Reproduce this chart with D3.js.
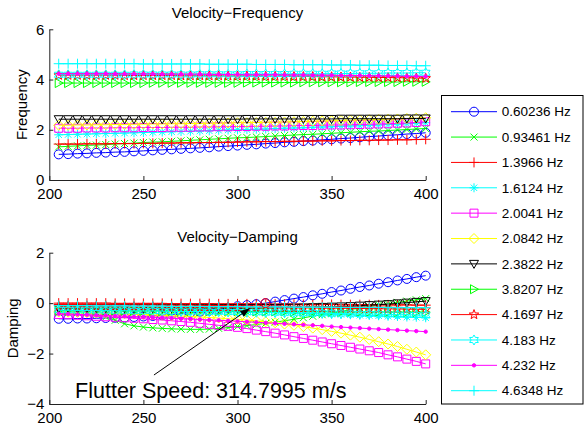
<!DOCTYPE html>
<html>
<head>
<meta charset="utf-8">
<script src="https://cdn.jsdelivr.net/npm/d3@7"></script>
<style>
  body { margin: 0; background: #fff; }
  svg text { font-family: "Liberation Sans", Arial, sans-serif; }
</style>
</head>
<body>
<svg id="chart" width="584" height="430"></svg>
<script>
// airspeed (m/s) for each point
const velocity = [205,210,215,220,225,230,235,240,245,250,255,260,265,270,275,280,285,290,295,300,
                  305,310,315,320,325,330,335,340,345,350,355,360,365,370,375,380,385,390,395,400];

const modeLabels = ['0.60236 Hz','0.93461 Hz','1.3966 Hz','1.6124 Hz','2.0041 Hz','2.0842 Hz',
                    '2.3822 Hz','3.8207 Hz','4.1697 Hz','4.183 Hz','4.232 Hz','4.6348 Hz'];

// frequency per mode
const freq1 = [1.02,1.03,1.05,1.06,1.08,1.09,1.11,1.12,1.14,1.16,1.18,1.20,1.22,1.24,1.26,1.28,1.30,1.33,1.35,1.37,
               1.40,1.42,1.45,1.47,1.50,1.52,1.55,1.57,1.60,1.62,1.65,1.67,1.70,1.73,1.75,1.78,1.80,1.83,1.85,1.88];
const freq2 = [1.32,1.34,1.36,1.38,1.39,1.41,1.43,1.45,1.47,1.49,1.51,1.52,1.54,1.56,1.58,1.60,1.62,1.64,1.66,1.68,
               1.69,1.71,1.73,1.75,1.77,1.79,1.81,1.82,1.84,1.86,1.88,1.90,1.92,1.94,1.95,1.97,1.99,2.01,2.03,2.05];
const freq3 = [1.43,1.43,1.43,1.44,1.44,1.44,1.45,1.45,1.45,1.46,1.46,1.47,1.47,1.48,1.48,1.49,1.49,1.50,1.50,1.51,
               1.52,1.52,1.53,1.53,1.54,1.54,1.55,1.55,1.56,1.56,1.57,1.57,1.58,1.58,1.59,1.59,1.60,1.60,1.61,1.62];
const freq4 = [1.80,1.81,1.82,1.83,1.84,1.85,1.86,1.87,1.88,1.89,1.90,1.91,1.92,1.93,1.94,1.95,1.96,1.98,1.99,2.00,
               2.01,2.02,2.03,2.05,2.06,2.07,2.08,2.10,2.11,2.12,2.14,2.15,2.16,2.18,2.19,2.21,2.22,2.24,2.26,2.28];
const freq5 = [2.06,2.06,2.06,2.07,2.07,2.07,2.08,2.08,2.08,2.09,2.09,2.09,2.10,2.10,2.10,2.11,2.11,2.12,2.12,2.13,
               2.13,2.14,2.14,2.15,2.15,2.16,2.17,2.17,2.18,2.19,2.19,2.20,2.21,2.22,2.23,2.24,2.26,2.27,2.29,2.32];
const freq6 = [2.18,2.18,2.19,2.19,2.20,2.20,2.21,2.21,2.22,2.22,2.23,2.23,2.24,2.24,2.25,2.25,2.26,2.26,2.27,2.28,
               2.28,2.29,2.30,2.30,2.31,2.32,2.33,2.34,2.35,2.36,2.37,2.38,2.39,2.40,2.41,2.42,2.43,2.45,2.46,2.48];
const freq7 = [2.42,2.42,2.42,2.42,2.42,2.42,2.42,2.42,2.42,2.42,2.42,2.42,2.42,2.42,2.42,2.42,2.42,2.42,2.42,2.42,
               2.43,2.43,2.43,2.43,2.43,2.43,2.43,2.43,2.43,2.43,2.44,2.44,2.44,2.44,2.44,2.44,2.44,2.45,2.45,2.45];
const freq8 = [3.86,3.86,3.86,3.86,3.86,3.86,3.86,3.86,3.86,3.86,3.87,3.87,3.87,3.87,3.87,3.87,3.87,3.87,3.87,3.87,
               3.88,3.88,3.88,3.88,3.88,3.88,3.89,3.89,3.89,3.89,3.89,3.89,3.90,3.90,3.90,3.90,3.90,3.91,3.91,3.91];
const freq9 = [4.17,4.17,4.17,4.17,4.17,4.17,4.17,4.16,4.16,4.16,4.16,4.16,4.16,4.15,4.15,4.15,4.15,4.15,4.14,4.14,
               4.14,4.14,4.13,4.13,4.13,4.12,4.12,4.12,4.11,4.11,4.10,4.10,4.09,4.09,4.08,4.08,4.07,4.07,4.06,4.05];
const freq10 = [4.19,4.19,4.19,4.19,4.19,4.19,4.19,4.19,4.20,4.20,4.20,4.20,4.20,4.20,4.20,4.21,4.21,4.21,4.21,4.21,
                4.22,4.22,4.22,4.22,4.22,4.23,4.23,4.23,4.23,4.24,4.24,4.24,4.25,4.25,4.25,4.26,4.26,4.26,4.27,4.27];
const freq11 = [4.23,4.23,4.23,4.23,4.23,4.23,4.22,4.22,4.22,4.22,4.22,4.21,4.21,4.21,4.21,4.21,4.20,4.20,4.20,4.20,
                4.19,4.19,4.19,4.19,4.18,4.18,4.18,4.17,4.17,4.17,4.16,4.16,4.16,4.15,4.15,4.14,4.14,4.13,4.13,4.12];
const freq12 = [4.63,4.63,4.63,4.63,4.63,4.63,4.63,4.63,4.63,4.62,4.62,4.62,4.62,4.62,4.62,4.62,4.61,4.61,4.61,4.61,
                4.61,4.60,4.60,4.60,4.60,4.59,4.59,4.59,4.59,4.58,4.58,4.58,4.57,4.57,4.57,4.56,4.56,4.56,4.55,4.55];

// damping per mode
const damp1 = [-0.62,-0.62,-0.61,-0.61,-0.60,-0.59,-0.58,-0.57,-0.55,-0.53,-0.51,-0.48,-0.45,-0.42,-0.38,-0.34,-0.30,-0.25,-0.20,-0.12,
               -0.08,-0.04,0.00,0.06,0.12,0.18,0.24,0.31,0.37,0.44,0.50,0.57,0.64,0.70,0.77,0.83,0.90,0.96,1.03,1.09];
const damp2 = [-0.28,-0.30,-0.33,-0.38,-0.45,-0.55,-0.68,-0.82,-0.90,-0.95,-0.98,-1.00,-1.02,-1.03,-1.04,-1.04,-1.03,-1.00,-0.97,-0.93,
               -0.89,-0.85,-0.80,-0.75,-0.70,-0.64,-0.58,-0.52,-0.46,-0.40,-0.33,-0.26,-0.19,-0.13,-0.07,-0.02,0.03,0.08,0.13,0.18];
const damp3 = [0.00,0.00,0.00,0.00,0.00,0.00,-0.01,-0.01,-0.01,-0.01,-0.01,-0.01,-0.02,-0.02,-0.02,-0.02,-0.02,-0.03,-0.03,-0.03,
               -0.03,-0.03,-0.04,-0.04,-0.04,-0.04,-0.05,-0.05,-0.05,-0.05,-0.06,-0.06,-0.06,-0.06,-0.07,-0.07,-0.07,-0.07,-0.08,-0.08];
const damp4 = [-0.22,-0.22,-0.23,-0.23,-0.24,-0.24,-0.25,-0.25,-0.26,-0.26,-0.27,-0.28,-0.28,-0.29,-0.30,-0.30,-0.31,-0.32,-0.33,-0.34,
               -0.35,-0.36,-0.37,-0.38,-0.39,-0.40,-0.41,-0.42,-0.43,-0.44,-0.45,-0.46,-0.48,-0.49,-0.50,-0.52,-0.53,-0.55,-0.56,-0.58];
const damp5 = [-0.45,-0.46,-0.48,-0.50,-0.52,-0.54,-0.56,-0.58,-0.60,-0.62,-0.65,-0.67,-0.70,-0.73,-0.76,-0.80,-0.84,-0.88,-0.92,-0.96,
               -1.01,-1.07,-1.13,-1.19,-1.26,-1.33,-1.40,-1.47,-1.54,-1.61,-1.68,-1.75,-1.82,-1.89,-1.96,-2.05,-2.13,-2.22,-2.31,-2.41];
const damp6 = [-0.35,-0.36,-0.37,-0.38,-0.39,-0.40,-0.41,-0.42,-0.43,-0.45,-0.46,-0.48,-0.50,-0.51,-0.53,-0.55,-0.57,-0.59,-0.62,-0.64,
               -0.67,-0.70,-0.74,-0.78,-0.83,-0.88,-0.93,-0.99,-1.05,-1.12,-1.19,-1.27,-1.35,-1.44,-1.53,-1.62,-1.72,-1.83,-1.94,-2.05];
const damp7 = [-0.20,-0.20,-0.20,-0.20,-0.20,-0.20,-0.20,-0.20,-0.20,-0.20,-0.20,-0.20,-0.20,-0.20,-0.20,-0.20,-0.20,-0.20,-0.20,-0.20,
               -0.20,-0.20,-0.19,-0.19,-0.18,-0.18,-0.17,-0.16,-0.15,-0.14,-0.13,-0.12,-0.10,-0.08,-0.06,-0.04,-0.01,0.02,0.05,0.08];
const damp8 = [-0.30,-0.30,-0.30,-0.30,-0.30,-0.30,-0.30,-0.31,-0.31,-0.31,-0.31,-0.31,-0.31,-0.31,-0.32,-0.32,-0.32,-0.32,-0.32,-0.32,
               -0.33,-0.33,-0.33,-0.33,-0.33,-0.34,-0.34,-0.34,-0.34,-0.34,-0.35,-0.35,-0.35,-0.35,-0.35,-0.36,-0.36,-0.36,-0.36,-0.36];
const damp9 = [-0.12,-0.12,-0.12,-0.13,-0.13,-0.13,-0.13,-0.14,-0.14,-0.14,-0.14,-0.15,-0.15,-0.15,-0.15,-0.16,-0.16,-0.16,-0.16,-0.17,
               -0.17,-0.17,-0.18,-0.18,-0.18,-0.19,-0.19,-0.19,-0.20,-0.20,-0.20,-0.21,-0.21,-0.22,-0.22,-0.23,-0.23,-0.24,-0.24,-0.25];
const damp10 = [-0.28,-0.28,-0.29,-0.29,-0.29,-0.30,-0.30,-0.30,-0.31,-0.31,-0.31,-0.32,-0.32,-0.33,-0.33,-0.33,-0.34,-0.34,-0.35,-0.35,
                -0.36,-0.36,-0.37,-0.37,-0.38,-0.38,-0.39,-0.39,-0.40,-0.41,-0.41,-0.42,-0.43,-0.43,-0.44,-0.45,-0.46,-0.46,-0.47,-0.48];
const damp11 = [-0.42,-0.43,-0.45,-0.46,-0.48,-0.49,-0.51,-0.52,-0.54,-0.55,-0.57,-0.58,-0.60,-0.62,-0.63,-0.65,-0.67,-0.68,-0.70,-0.72,
                -0.74,-0.76,-0.78,-0.80,-0.82,-0.84,-0.86,-0.88,-0.90,-0.93,-0.95,-0.97,-0.99,-1.01,-1.03,-1.05,-1.07,-1.09,-1.11,-1.13];
const damp12 = [-0.10,-0.10,-0.10,-0.10,-0.11,-0.11,-0.11,-0.11,-0.12,-0.12,-0.12,-0.12,-0.13,-0.13,-0.13,-0.13,-0.14,-0.14,-0.14,-0.14,
                -0.15,-0.15,-0.15,-0.15,-0.15,-0.16,-0.16,-0.16,-0.16,-0.16,-0.17,-0.17,-0.17,-0.17,-0.17,-0.18,-0.18,-0.18,-0.18,-0.18];

const freqTicks = [0, 2, 4, 6];
const dampTicks = [-4, -2, 0, 2];
const velTicks = [200, 250, 300, 350, 400];

const flutterSpeed = 314.7995;
const flutterLabel = 'Flutter Speed: 314.7995 m/s';
const arrowFrom = [255.6, -2.85];   // annotation arrow tail (velocity, damping)
const arrowTo = [306.7, -0.2];      // arrow head
const labelAt = [213.7, -3.76];     // text baseline start

// ---- styles (MATLAB default line spec cycle) ----
const colors = ['#0000ff','#00ff00','#ff0000','#00ffff','#ff00ff','#ffff00',
                '#000000','#00ff00','#ff0000','#00ffff','#ff00ff','#00ffff'];
const markers = ['o','x','+','*','s','d','v','>','p','h','.','+'];

const freqs = [freq1,freq2,freq3,freq4,freq5,freq6,freq7,freq8,freq9,freq10,freq11,freq12];
const damps = [damp1,damp2,damp3,damp4,damp5,damp6,damp7,damp8,damp9,damp10,damp11,damp12];

const modes = modeLabels.map((label, i) => ({
    label,
    color: colors[i],
    marker: markers[i],
    freq: velocity.map((v, j) => ({ v, y: freqs[i][j] })),
    damp: velocity.map((v, j) => ({ v, y: damps[i][j] }))
}));

function starPath(n, r1, r2) {
    const pts = [];
    for (let k = 0; k < 2 * n; k++) {
        const a = -Math.PI / 2 + k * Math.PI / n;
        const r = k % 2 === 0 ? r1 : r2;
        pts.push([r * Math.cos(a), r * Math.sin(a)]);
    }
    return 'M' + pts.map(p => p.join(',')).join('L') + 'Z';
}

function markerPath(m) {
    switch (m) {
        case 'o': return 'M-4.5,0A4.5,4.5 0 1,0 4.5,0A4.5,4.5 0 1,0 -4.5,0Z';
        case 'x': return 'M-3.5,-3.5L3.5,3.5M-3.5,3.5L3.5,-3.5';
        case '+': return 'M-5,0L5,0M0,-5L0,5';
        case '*': return 'M-4.5,0L4.5,0M0,-4.5L0,4.5M-3.2,-3.2L3.2,3.2M-3.2,3.2L3.2,-3.2';
        case 's': return 'M-4,-4H4V4H-4Z';
        case 'd': return 'M0,-5L5,0L0,5L-5,0Z';
        case 'v': return 'M-4.5,-3.5L4.5,-3.5L0,4.5Z';
        case '>': return 'M-3.5,-4.5L-3.5,4.5L4.5,0Z';
        case 'p': return starPath(5, 5, 2.1);
        case 'h': return starPath(6, 5, 2.9);
        case '.': return 'M-1.7,0A1.7,1.7 0 1,0 1.7,0A1.7,1.7 0 1,0 -1.7,0Z';
    }
}

const svg = d3.select('#chart');
const left = 49.3, right = 425.7;

const x = d3.scaleLinear().domain([200, 400]).range([left, right]);
const yFreq = d3.scaleLinear().domain([0, 6]).range([180, 29.3]);
const yDamp = d3.scaleLinear().domain([-4, 2]).range([404, 252.7]);

function drawPanel(yScale, ticks, key, title, titleY, ylabel, ylabelX) {
    const g = svg.append('g');

    const line = d3.line().x(d => x(d.v)).y(d => yScale(d.y));

    modes.forEach(m => {
        const s = g.append('g');
        s.append('path')
            .datum(m[key])
            .attr('fill', 'none')
            .attr('stroke', m.color)
            .attr('stroke-width', 1)
            .attr('d', line);
        s.selectAll('path.mk')
            .data(m[key])
            .join('path')
            .attr('class', 'mk')
            .attr('transform', d => `translate(${x(d.v)},${yScale(d.y)})`)
            .attr('d', markerPath(m.marker))
            .attr('fill', m.marker === '.' ? m.color : 'none')
            .attr('stroke', m.color)
            .attr('stroke-width', 1);
    });

    const y0 = yScale.range()[0];
    const xAxis = g.append('g')
        .attr('transform', `translate(0,${y0})`)
        .call(d3.axisBottom(x).tickValues(velTicks).tickFormat(d3.format('d'))
            .tickSizeInner(-4).tickSizeOuter(0).tickPadding(8.5));
    const yAxis = g.append('g')
        .attr('transform', `translate(${left},0)`)
        .call(d3.axisLeft(yScale).tickValues(ticks).tickFormat(d3.format('d'))
            .tickSizeInner(-4).tickSizeOuter(0).tickPadding(5));

    [xAxis, yAxis].forEach(a => {
        a.attr('font-size', null).attr('font-family', null);
        a.selectAll('text').attr('font-size', 15).attr('fill', '#000');
        a.selectAll('line, path').attr('stroke', '#222');
    });

    svg.append('text')
        .attr('x', (left + right) / 2)
        .attr('y', titleY)
        .attr('text-anchor', 'middle')
        .attr('font-size', 15)
        .text(title);

    svg.append('text')
        .attr('transform', `translate(${ylabelX},${(yScale.range()[0] + yScale.range()[1]) / 2}) rotate(-90)`)
        .attr('text-anchor', 'middle')
        .attr('font-size', 15)
        .text(ylabel);
}

drawPanel(yFreq, freqTicks, 'freq', 'Velocity\u2212Frequency', 18, 'Frequency', 27);
drawPanel(yDamp, dampTicks, 'damp', 'Velocity\u2212Damping', 242, 'Damping', 18);

// flutter point
svg.append('path')
    .attr('transform', `translate(${x(flutterSpeed)},${yDamp(0)})`)
    .attr('d', markerPath('o'))
    .attr('fill', 'none')
    .attr('stroke', '#ff0000')
    .attr('stroke-width', 1);

// annotation arrow
const ax0 = x(arrowFrom[0]), ay0 = yDamp(arrowFrom[1]);
const ax1 = x(arrowTo[0]), ay1 = yDamp(arrowTo[1]);
const ang = Math.atan2(ay1 - ay0, ax1 - ax0);
const hl = 10, hw = 3.5;
const bx = ax1 - hl * Math.cos(ang), by = ay1 - hl * Math.sin(ang);
svg.append('line')
    .attr('x1', ax0).attr('y1', ay0)
    .attr('x2', bx).attr('y2', by)
    .attr('stroke', '#000').attr('stroke-width', 1);
svg.append('path')
    .attr('d', `M${ax1},${ay1}L${bx + hw * Math.sin(ang)},${by - hw * Math.cos(ang)}L${bx - hw * Math.sin(ang)},${by + hw * Math.cos(ang)}Z`)
    .attr('fill', '#000');

svg.append('text')
    .attr('x', x(labelAt[0]))
    .attr('y', yDamp(labelAt[1]))
    .attr('font-size', 21.5)
    .text(flutterLabel);

// legend
const legend = svg.append('g');
legend.append('rect')
    .attr('x', 441.5).attr('y', 95.5)
    .attr('width', 141.5).attr('height', 308.5)
    .attr('fill', '#fff')
    .attr('stroke', '#000')
    .attr('stroke-width', 1);

const rowY = d3.scalePoint().domain(d3.range(modes.length)).range([111.7, 390.7]);
modes.forEach((m, i) => {
    const yy = rowY(i);
    legend.append('line')
        .attr('x1', 451).attr('x2', 497)
        .attr('y1', yy).attr('y2', yy)
        .attr('stroke', m.color).attr('stroke-width', 1);
    legend.append('path')
        .attr('transform', `translate(474,${yy})`)
        .attr('d', markerPath(m.marker))
        .attr('fill', m.marker === '.' ? m.color : 'none')
        .attr('stroke', m.color).attr('stroke-width', 1);
    legend.append('text')
        .attr('x', 501.7).attr('y', yy)
        .attr('dy', '0.35em')
        .attr('font-size', 13.5)
        .text(m.label);
});
</script>
</body>
</html>
